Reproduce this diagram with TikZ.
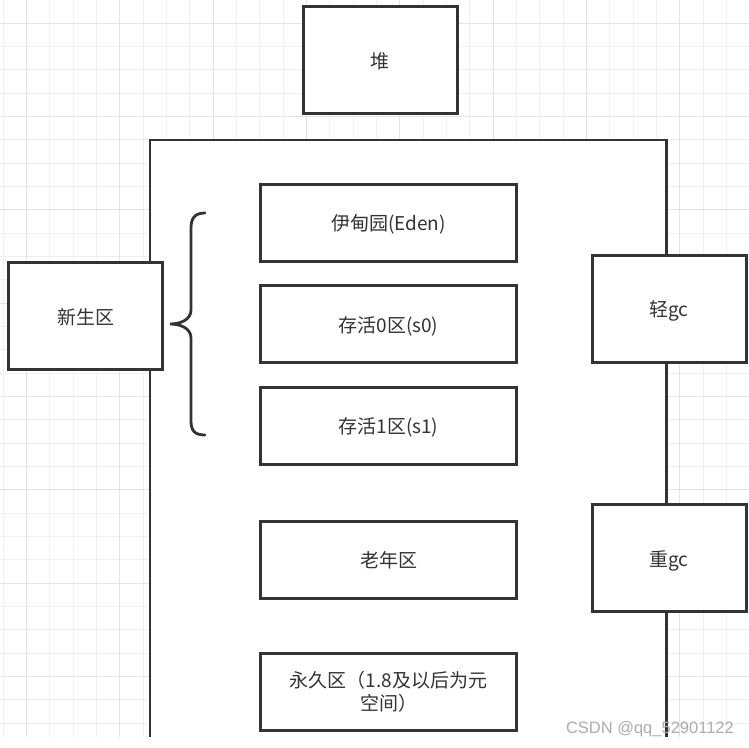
\documentclass[tikz,border=0pt]{standalone}
\usepackage{fontspec}
\usetikzlibrary{calc}
\newfontfamily\cjk{Noto Sans CJK SC}
\newfontfamily\marksf{Liberation Sans}
\definecolor{ink}{HTML}{333333}
\definecolor{gridminor}{HTML}{F0F0F0}
\definecolor{gridmajor}{HTML}{E3E3E3}
\tikzset{
  zone/.style={draw=ink, line width=3pt, fill=white, text=ink,
    font=\cjk\fontsize{19}{23}\selectfont, inner sep=0pt, align=center,
    text height=19pt, text depth=3pt,
    minimum width=256pt, minimum height=77pt},
  sidebox/.style={zone, minimum width=154pt, minimum height=107pt},
  frame/.style={draw=ink, line width=2.6pt},
}
\begin{document}
\begin{tikzpicture}[x=1pt,y=-1pt]
            \useasboundingbox (0,0) rectangle (749,747);
            \fill[white] (0,0) rectangle (749,747);
            
            % Drawing the grid
            \foreach \k in {0,...,32}
              \draw[gridminor, line width=1pt] (3.3+23.33*\k,0) -- (3.3+23.33*\k,737);%
            \foreach \k in {1,...,31}
              \draw[gridminor, line width=1pt] (0,23.33*\k) -- (749,23.33*\k);%
            \foreach \k in {0,...,7}
              \draw[gridmajor, line width=1pt] (26.6+93.33*\k,0) -- (26.6+93.33*\k,737);%
            \foreach \k in {0,...,7}
              \draw[gridmajor, line width=1pt] (0,23.33+93.33*\k) -- (749,23.33+93.33*\k);%
            
            % Drawing the heap frame
            \draw[frame, fill=white] (150,737) -- (150,140) -- (666.7,140) -- (666.7,737);%
            
            % Marking the heap
            \node[sidebox] (heap) at (380,60) {堆};%
            
            % Marking the regions
            \node[zone] (eden) at (388.5,222.5) {伊甸园(Eden)};%
            \node[zone] (szero) at (388.5,324) {存活0区(s0)};%
            \node[zone] (sone) at (388.5,425.5) {存活1区(s1)};%
            \node[zone] (old) at (388.5,559.5) {老年区};%
            \node[zone, text height=, text depth=] (perm) at (388.5,692) {永久区（1.8及以后为元\\空间）};%
            
            % Marking the side boxes
            \node[sidebox] (young) at (85.5,316) {新生区};%
            \node[sidebox] (minorgc) at (669,308.5) {轻gc};%
            \node[sidebox] (fullgc) at (669,558) {重gc};%
            
            % Drawing the brace
            \coordinate (tip) at ($(young.east)+(6,8)$);%
            \draw[frame, line width=2.8pt, line cap=round] (205,213) .. controls (195,213) and (191,218) .. (191,228)
              -- (191,310) .. controls (191,320) and (180,324) .. (tip)
              .. controls (180,324) and (191,328) .. (191,338)
              -- (191,421) .. controls (191,431) and (195,435) .. (205,435);%
            
            % Watermark
            \node[anchor=east, text=gray!65, font=\marksf\fontsize{16.5}{16.5}\selectfont, inner sep=0pt] (mark) at (734,729) {CSDN @qq\_52901122};%
\end{tikzpicture}
\end{document}
